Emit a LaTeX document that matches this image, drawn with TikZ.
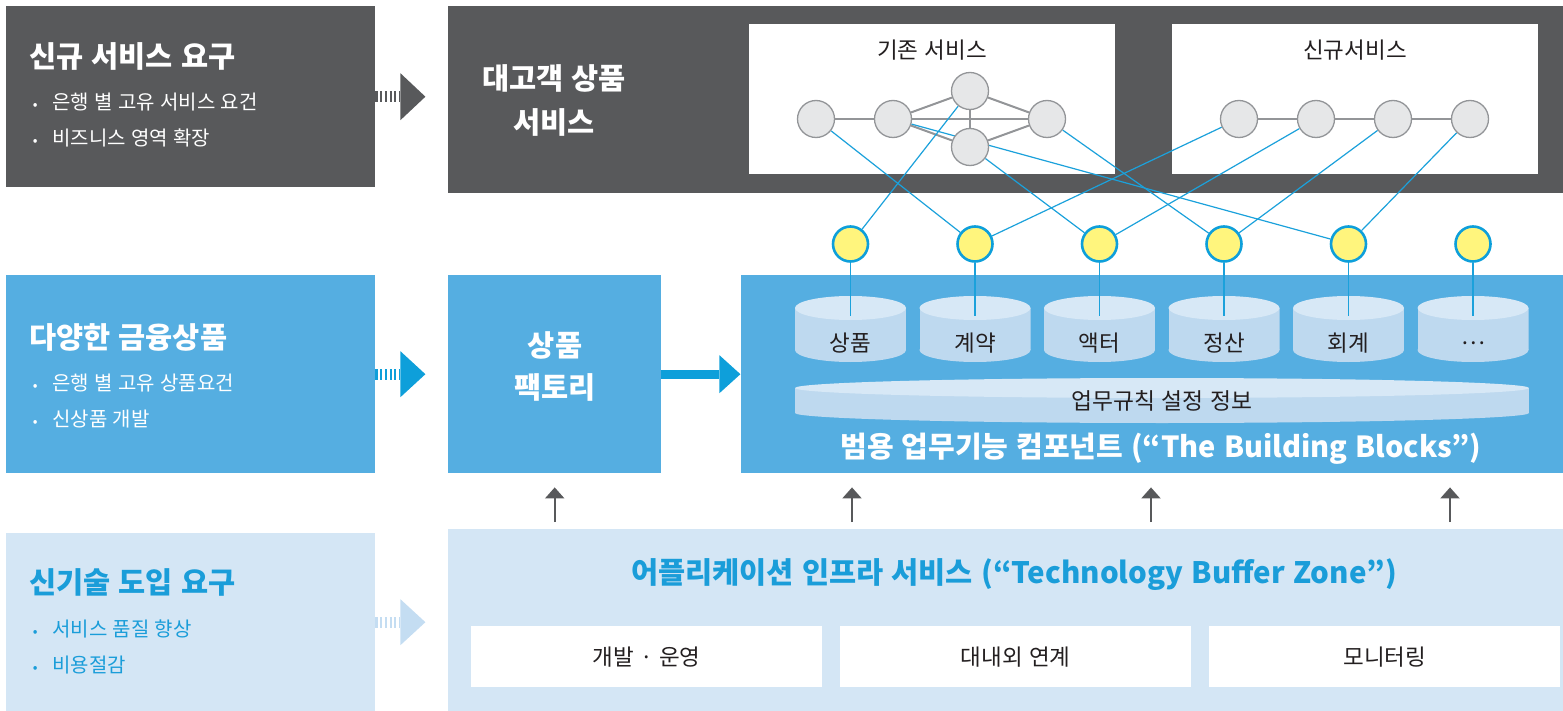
\documentclass[tikz,border=0pt]{standalone}
\usepackage{fontspec}
\setmainfont{Noto Sans CJK KR}[WordSpace=1.2]
\usetikzlibrary{calc,arrows.meta}
\pgfdeclarelayer{back}
\pgfdeclarelayer{edges}
\pgfsetlayers{back,edges,main}
\definecolor{dgray}{HTML}{58595B}
\definecolor{mblue}{HTML}{55AEE1}
\definecolor{ablue}{HTML}{0E9FDA}
\definecolor{lblue}{HTML}{D4E6F5}
\definecolor{lablue}{HTML}{C4DDF2}
\definecolor{tblue}{HTML}{1A9DD9}
\definecolor{cyltop}{HTML}{D7E8F6}
\definecolor{cylside}{HTML}{BED9EF}
\definecolor{ynode}{HTML}{FFF57D}
\definecolor{gnode}{HTML}{E6E7E8}
\definecolor{gline}{HTML}{939598}
\definecolor{eblue}{HTML}{1BA1DB}
\definecolor{txt}{HTML}{231F20}
\begin{document}
\begin{tikzpicture}[x=1pt,y=-1pt,
  box/.style={rectangle, inner sep=0pt, anchor=north west, draw=none},
  ttl/.style={inner sep=0pt, font=\bfseries\fontsize{29.5}{36}\selectfont},
  bul/.style={inner sep=0pt, anchor=west, font=\fontsize{20}{24}\selectfont},
  lab/.style={inner sep=0pt, text=txt, font=\fontsize{22.5}{27}\selectfont},
  gcirc/.style={circle, minimum size=37pt, inner sep=0pt, fill=gnode, draw=gline, line width=1.3pt},
  ycirc/.style={circle, minimum size=35pt, inner sep=0pt, fill=ynode, draw=ablue, line width=2.6pt},
  gedge/.style={draw=gline, line width=2pt},
  bedge/.style={draw=eblue, line width=1.2pt},
  dstem/.style={line width=11pt, dash pattern=on 2.2pt off 2.5pt},
  uparr/.style={draw=dgray, line width=2pt, -{Triangle[length=11pt,width=19pt]}},
  cylbox/.style={rectangle, minimum width=111pt, minimum height=66pt, inner sep=0pt,
    path picture={
      \coordinate (pc) at (path picture bounding box.center);
      \fill[cylside] ([shift={(-55.5,-21)}]pc) rectangle ([shift={(55.5,21)}]pc);
      \fill[cylside] ([shift={(0,21)}]pc) ellipse [x radius=55.5pt, y radius=12pt];
      \fill[cyltop] ([shift={(0,-21)}]pc) ellipse [x radius=55.5pt, y radius=12pt];
    }},
  diskbox/.style={rectangle, minimum width=734pt, minimum height=45pt, inner sep=0pt, text=txt,
    font=\fontsize{22.8}{27}\selectfont,
    path picture={
      \coordinate (pd) at (path picture bounding box.center);
      \fill[cylside] ([shift={(-367,-12.5)}]pd) rectangle ([shift={(367,12.5)}]pd);
      \fill[cylside] ([shift={(0,12.5)}]pd) ellipse [x radius=367pt, y radius=10pt];
      \fill[cyltop] ([shift={(0,-12.5)}]pd) ellipse [x radius=367pt, y radius=10pt];
    }},
]
\useasboundingbox (0,0) rectangle (1563,711);

\begin{pgfonlayer}{back}
% boxes
\node[box, fill=dgray, minimum width=369pt, minimum height=181pt] (L1) at (6,6) {};
\node[box, fill=dgray, minimum width=1115pt, minimum height=187pt] (R1) at (448,6) {};
\node[box, fill=white, minimum width=366pt, minimum height=150pt] (W1) at (749,24) {};
\node[box, fill=white, minimum width=366pt, minimum height=150pt] (W2) at (1172,24) {};
\node[box, fill=mblue, minimum width=369pt, minimum height=198pt] (L2) at (6,275) {};
\node[box, fill=mblue, minimum width=213pt, minimum height=198pt] (F) at (448,275) {};
\node[box, fill=mblue, minimum width=822pt, minimum height=198pt] (BB) at (741,275) {};
\node[box, fill=lblue, minimum width=369pt, minimum height=178pt] (L3) at (6,533) {};
\node[box, fill=lblue, minimum width=1115pt, minimum height=182pt] (INF) at (448,529) {};
\node[box, fill=white, minimum width=351pt, minimum height=61pt] (B1) at (471,626) {};
\node[box, fill=white, minimum width=351pt, minimum height=61pt] (B2) at (840,626) {};
\node[box, fill=white, minimum width=351pt, minimum height=61pt] (B3) at (1209,626) {};
% cylinders
\node[cylbox] (c1) at (850.5,329) {};
\node[cylbox] (c2) at (975,329) {};
\node[cylbox] (c3) at (1099.5,329) {};
\node[cylbox] (c4) at (1224,329) {};
\node[cylbox] (c5) at (1348.5,329) {};
\node[cylbox] (c6) at (1473,329) {};
\node[diskbox] (rules) at (1162,400.5) {업무규칙 설정 정보};
\end{pgfonlayer}

% texts in boxes
\node[ttl, text=white, anchor=west] (L1t) at (29,56) {신규 서비스 요구};
\node[bul, text=white] (L1a) at (35,102) {\makebox[0pt]{\fontsize{14}{14}\selectfont•}\hspace{17pt}은행 별 고유 서비스 요건};
\node[bul, text=white] (L1b) at (35,138) {\makebox[0pt]{\fontsize{14}{14}\selectfont•}\hspace{17pt}비즈니스 영역 확장};
\node[ttl, text=white, align=center, font=\bfseries\fontsize{29.5}{44}\selectfont] (R1t) at (554,100) {대고객 상품\\서비스};
\node[lab] (W1t) at (932,50) {기존 서비스};
\node[lab] (W2t) at (1355,50) {신규서비스};

\node[ttl, text=white, anchor=west] (L2t) at (29,337) {다양한 금융상품};
\node[bul, text=white] (L2a) at (35,383) {\makebox[0pt]{\fontsize{14}{14}\selectfont•}\hspace{17pt}은행 별 고유 상품요건};
\node[bul, text=white] (L2b) at (35,419) {\makebox[0pt]{\fontsize{14}{14}\selectfont•}\hspace{17pt}신상품 개발};
\node[ttl, text=white, align=center, font=\bfseries\fontsize{29.5}{42}\selectfont] (Ft) at (555,366) {상품\\팩토리};
\node[ttl, text=white, font=\bfseries\fontsize{29}{34}\selectfont] (BBt) at (1161,449) {범용 업무기능 컴포넌트 (“The Building Blocks”)};

\node[lab] (c1t) at (850.5,343) {상품};
\node[lab] (c2t) at (975,343) {계약};
\node[lab] (c3t) at (1099.5,343) {액터};
\node[lab] (c4t) at (1224,343) {정산};
\node[lab] (c5t) at (1348.5,343) {회계};
\node[lab] (c6t) at (1473,343) {…};

\node[ttl, text=tblue, anchor=west] (L3t) at (29,582) {신기술 도입 요구};
\node[bul, text=tblue] (L3a) at (35,629) {\makebox[0pt]{\fontsize{14}{14}\selectfont•}\hspace{17pt}서비스 품질 향상};
\node[bul, text=tblue] (L3b) at (35,665) {\makebox[0pt]{\fontsize{14}{14}\selectfont•}\hspace{17pt}비용절감};
\node[ttl, text=tblue, font=\bfseries\fontsize{29.5}{34}\selectfont] (INFt) at (1014,575) {어플리케이션 인프라 서비스 (“Technology Buffer Zone”)};
\node[lab] at (B1.center) (B1t) {개발 · 운영};
\node[lab] at (B2.center) (B2t) {대내외 연계};
\node[lab] at (B3.center) (B3t) {모니터링};

% network nodes
\node[gcirc] (eA) at (816,119) {};
\node[gcirc] (eB) at (893,119) {};
\node[gcirc] (eC) at (970,91) {};
\node[gcirc] (eD) at (970,147) {};
\node[gcirc] (eE) at (1047,119) {};
\node[gcirc] (n1) at (1239,119) {};
\node[gcirc] (n2) at (1316,119) {};
\node[gcirc] (n3) at (1393,119) {};
\node[gcirc] (n4) at (1470,119) {};
\node[ycirc] (y1) at (850.5,244) {};
\node[ycirc] (y2) at (975,244) {};
\node[ycirc] (y3) at (1099.5,244) {};
\node[ycirc] (y4) at (1224,244) {};
\node[ycirc] (y5) at (1348.5,244) {};
\node[ycirc] (y6) at (1473,244) {};

\begin{pgfonlayer}{edges}
\draw[gedge] (eA) -- (eB);
\draw[gedge] (eB) -- (eC);
\draw[gedge] (eB) -- (eE);
\draw[gedge] (eC) -- (eD);
\draw[gedge] (eC) -- (eE);
\draw[gedge] (eD) -- (eE);
\draw[gedge] (eB) -- (eD);
\draw[gedge] (n1) -- (n2);
\draw[gedge] (n2) -- (n3);
\draw[gedge] (n3) -- (n4);
\draw[bedge] (eC) -- (y1);
\draw[bedge] (eA) -- (y2);
\draw[bedge] (eD) -- (y3);
\draw[bedge] (eE) -- (y4);
\draw[bedge] (eB) -- (y5);
\draw[bedge] (n1) -- (y2);
\draw[bedge] (n2) -- (y3);
\draw[bedge] (n3) -- (y4);
\draw[bedge] (n4) -- (y5);
\foreach \i in {1,...,6}{
  \draw[bedge] (y\i.south) -- ([yshift=-20pt]c\i.north);
}
\end{pgfonlayer}

% arrows left column -> right
\draw[dstem, dgray] (L1.east) -- ++(25,0) coordinate (a1);
\fill[dgray] ([yshift=23.5pt]a1) -- ++(25,23.5) -- ++(-25,23.5) -- cycle;
\draw[dstem, ablue] (L2.east) -- ++(25,0) coordinate (a2);
\fill[ablue] ([yshift=23pt]a2) -- ++(25,23) -- ++(-25,23) -- cycle;
\draw[dstem, lablue] (L3.east) -- ++(25,0) coordinate (a3);
\fill[lablue] ([yshift=23pt]a3) -- ++(25,23) -- ++(-25,23) -- cycle;
% solid arrow factory -> building blocks
\draw[line width=9pt, ablue] (F.east) -- ++(58,0) coordinate (a4);
\fill[ablue] ([yshift=19pt]a4) -- ++(21,19) -- ++(-21,19) -- cycle;

% up arrows
\draw[uparr] ([yshift=7pt]F.south |- INF.north) -- ([yshift=-14pt]F.south);
\draw[uparr] ([xshift=111pt,yshift=7pt]BB.west |- INF.north) -- ([xshift=111pt,yshift=-14pt]BB.south west);
\draw[uparr] ([xshift=410pt,yshift=7pt]BB.west |- INF.north) -- ([xshift=410pt,yshift=-14pt]BB.south west);
\draw[uparr] ([xshift=709pt,yshift=7pt]BB.west |- INF.north) -- ([xshift=709pt,yshift=-14pt]BB.south west);
\end{tikzpicture}
\end{document}
